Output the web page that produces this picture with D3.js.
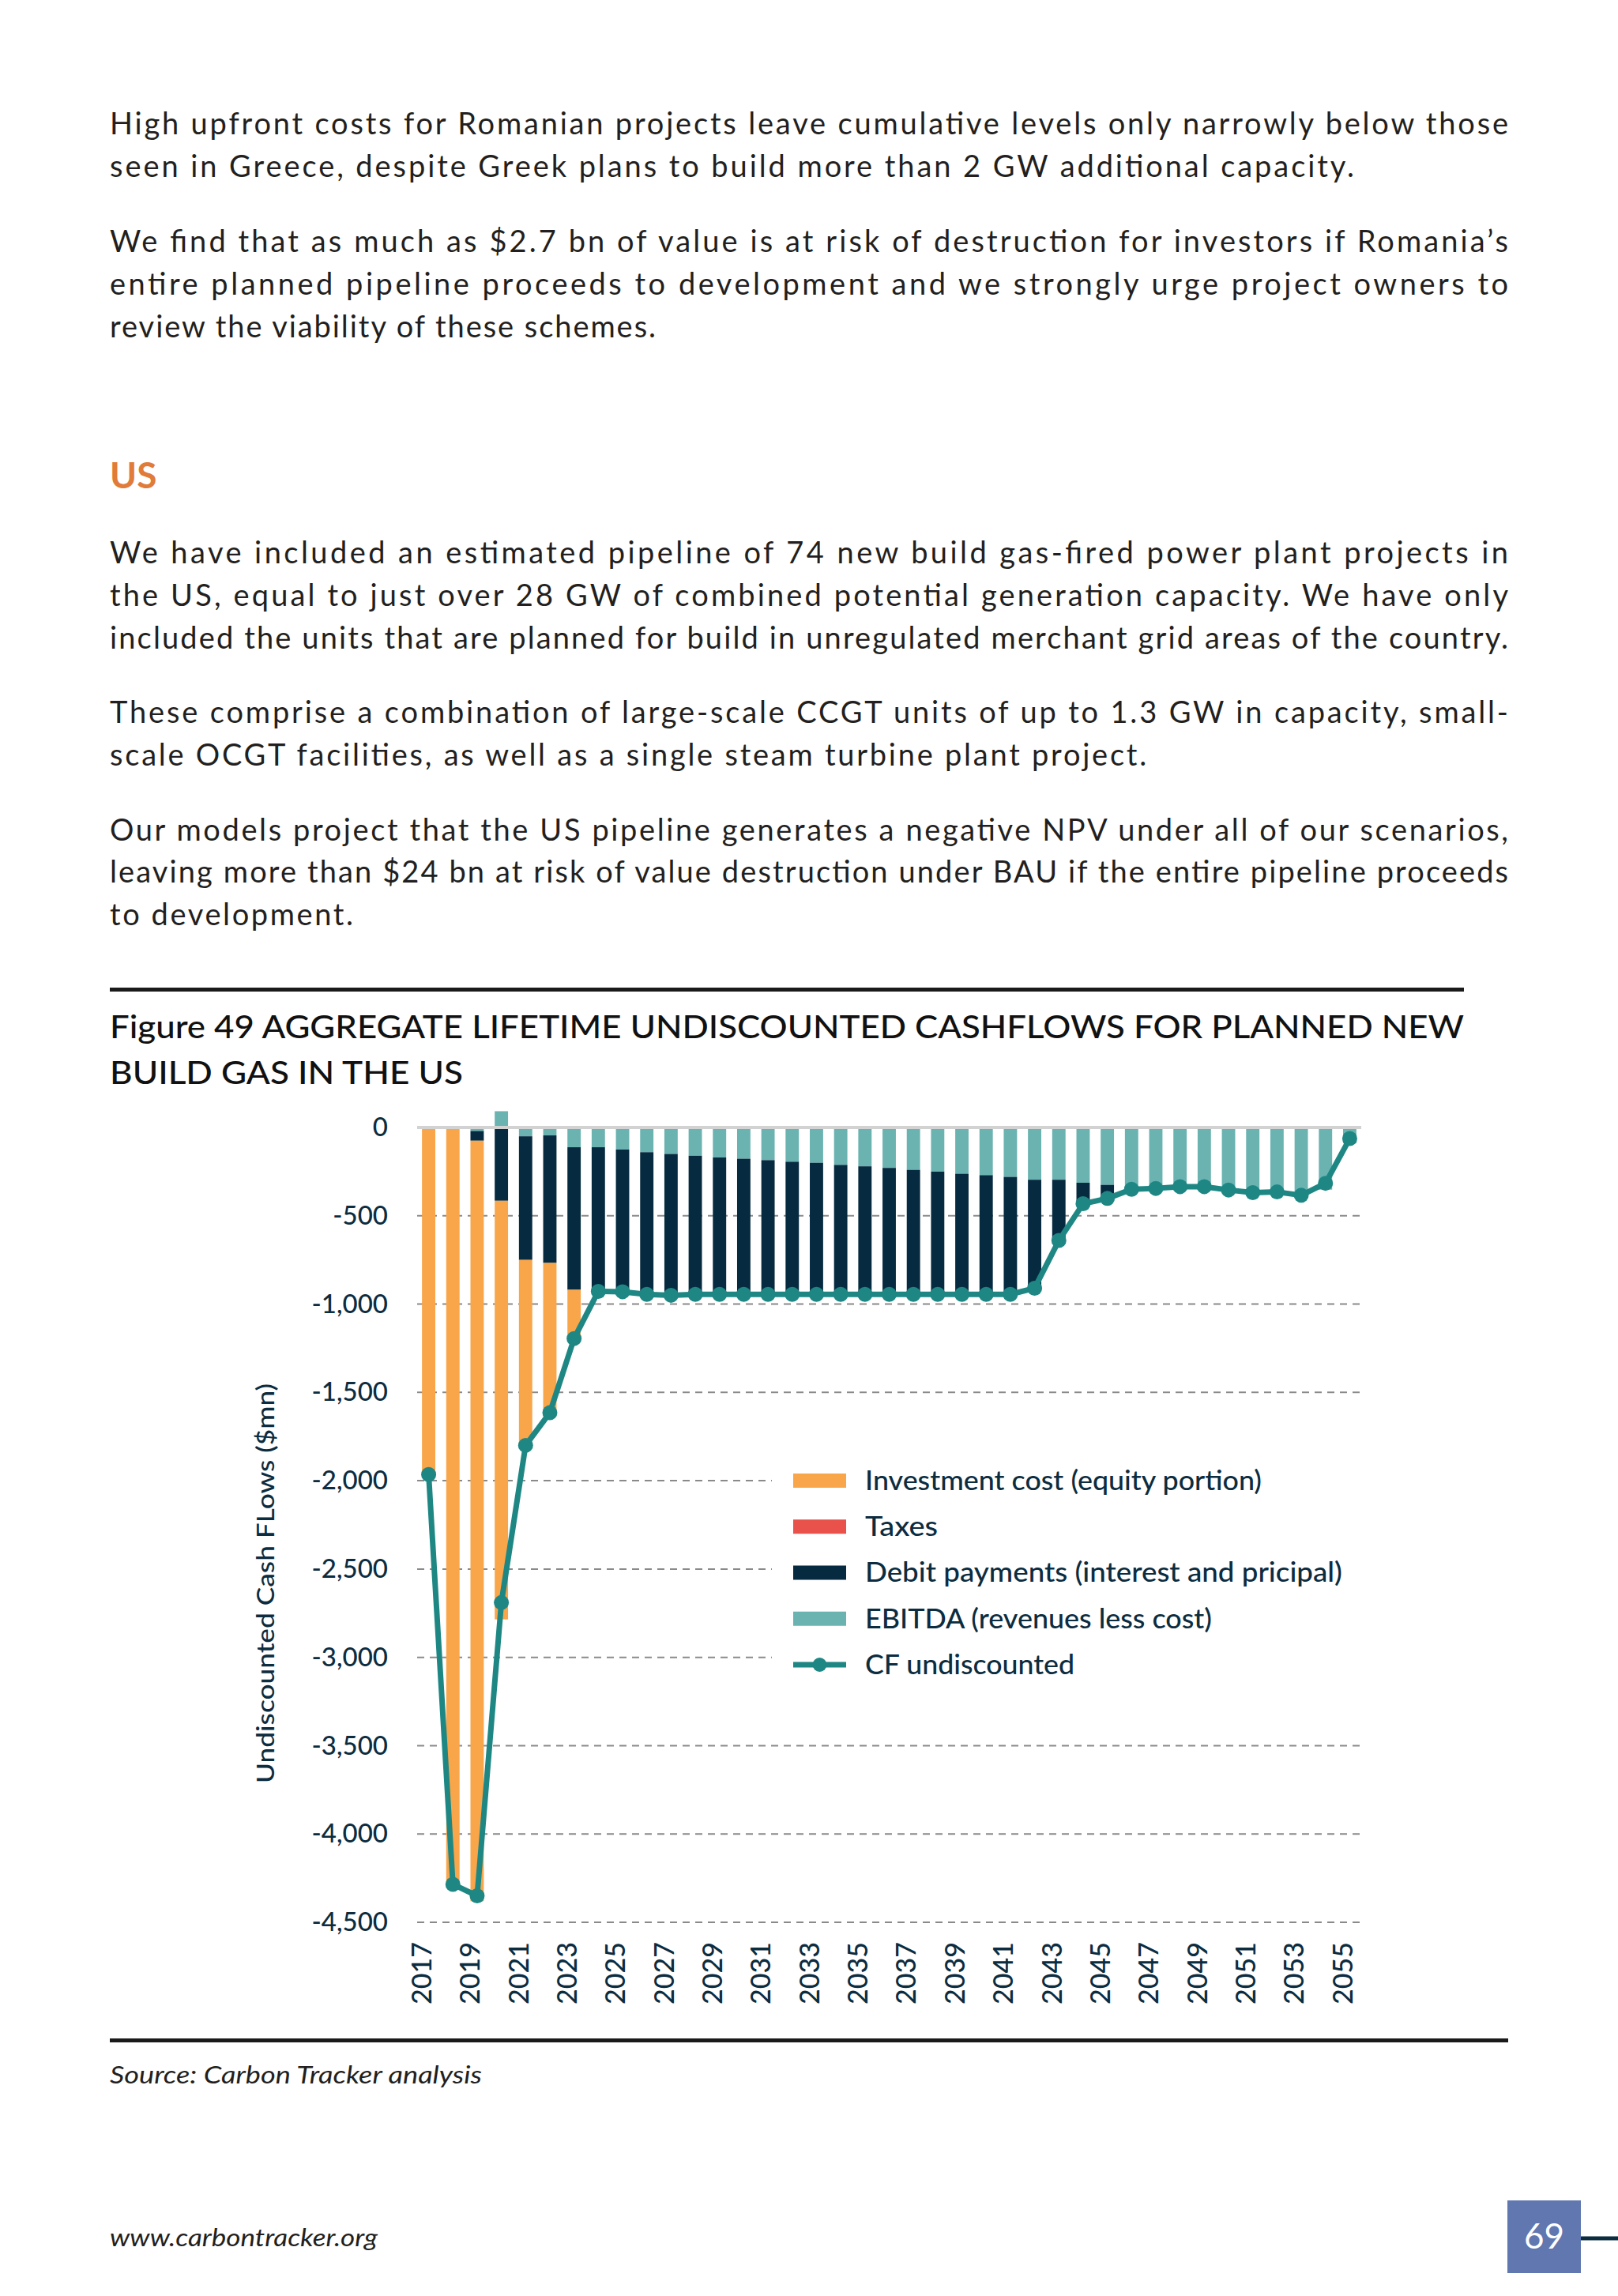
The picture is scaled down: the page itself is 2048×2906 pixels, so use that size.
<!DOCTYPE html>
<html>
<head>
<meta charset="utf-8">
<script src="https://cdn.jsdelivr.net/npm/d3@7"></script>
<style>
  body { margin: 0; background: #fff; }
  svg { display: block; }
</style>
</head>
<body>
<div class="viz"></div>
<script>
// ---- data ----
const years = [2017, 2018, 2019, 2020, 2021, 2022, 2023, 2024, 2025, 2026,
  2027, 2028, 2029, 2030, 2031, 2032, 2033, 2034, 2035, 2036,
  2037, 2038, 2039, 2040, 2041, 2042, 2043, 2044, 2045, 2046,
  2047, 2048, 2049, 2050, 2051, 2052, 2053, 2054, 2055];

const investment = [-1970, -4300, -4305, -2370, -1060, -855, -280, 0, 0, 0,
  0, 0, 0, 0, 0, 0, 0, 0, 0, 0,
  0, 0, 0, 0, 0, 0, 0, 0, 0, 0,
  0, 0, 0, 0, 0, 0, 0, 0, 0];

const taxes = [0, 0, 0, 0, 0, 0, 0, 0, 0, 0,
  0, 0, 0, 0, 0, 0, 0, 0, 0, 0,
  0, 0, 0, 0, 0, 0, 0, 0, 0, 0,
  0, 0, 0, 0, 0, 0, 0, 0, 0];

const debt = [0, 0, -55, -415, -700, -722, -807, -818, -810, -805,
  -805, -785, -775, -768, -760, -751, -745, -733, -725, -716,
  -705, -695, -683, -675, -665, -614, -344, -120, -80, -15,
  -10, 0, 0, 0, 0, 0, 0, 0, 0];

const ebitda = [0, 0, -20, 92, -50, -45, -112, -112, -125, -140,
  -150, -160, -170, -177, -185, -194, -200, -212, -220, -229,
  -240, -250, -262, -270, -280, -296, -296, -313, -325, -335,
  -335, -338, -345, -354, -366, -366, -384, -352, -90];

const cf = [-1965, -4285, -4350, -2690, -1800, -1615, -1195, -928, -930, -945,
  -950, -945, -945, -945, -945, -945, -945, -945, -945, -945,
  -945, -945, -945, -945, -945, -910, -640, -432, -402, -350,
  -345, -335, -335, -354, -369, -365, -384, -316, -63];

const yTicks = [0, -500, -1000, -1500, -2000, -2500, -3000, -3500, -4000, -4500];
const xTickYears = [2017, 2019, 2021, 2023, 2025, 2027, 2029, 2031, 2033, 2035,
  2037, 2039, 2041, 2043, 2045, 2047, 2049, 2051, 2053, 2055];

const seriesKeys = ['ebitda', 'taxes', 'debt', 'investment'];
const legendItems = [
  {key: 'investment', label: 'Investment cost (equity portion)', len: 502},
  {key: 'taxes', label: 'Taxes', len: 92},
  {key: 'debt', label: 'Debit payments (interest and pricipal)', len: 604},
  {key: 'ebitda', label: 'EBITDA (revenues less cost)', len: 439},
  {key: 'cf', label: 'CF undiscounted', len: 265}
];

const colors = {
  investment: '#f9a54a',
  taxes: '#e8524a',
  debt: '#062b40',
  ebitda: '#6bb3b1',
  cf: '#1e8784'
};

const ink = '#231f20';
const navy = '#0c2c40';
const font = 'Lato, "Open Sans", sans-serif';

// ---- page ----
const width = 2048, height = 2906;

const svg = d3.select('.viz').append('svg')
  .attr('width', width)
  .attr('height', height)
  .style('font-family', font);

svg.append('rect').attr('width', width).attr('height', height).attr('fill', '#fff');

// body text: [text, baseline, right edge or null = natural width]
const bodyLines = [
  ['High upfront costs for Romanian projects leave cumulative levels only narrowly below those', 170, 1909],
  ['seen in Greece, despite Greek plans to build more than 2 GW additional capacity.', 224, 1714],
  ['We find that as much as $2.7 bn of value is at risk of destruction for investors if Romania\u2019s', 319, 1909],
  ['entire planned pipeline proceeds to development and we strongly urge project owners to', 373, 1909],
  ['review the viability of these schemes.', 427, 830],
  ['We have included an estimated pipeline of 74 new build gas-fired power plant projects in', 713, 1909],
  ['the US, equal to just over 28 GW of combined potential generation capacity. We have only', 767, 1909],
  ['included the units that are planned for build in unregulated merchant grid areas of the country.', 821, 1909],
  ['These comprise a combination of large-scale CCGT units of up to 1.3 GW in capacity, small-', 915, 1909],
  ['scale OCGT facilities, as well as a single steam turbine plant project.', 969, null],
  ['Our models project that the US pipeline generates a negative NPV under all of our scenarios,', 1064, 1909],
  ['leaving more than $24 bn at risk of value destruction under BAU if the entire pipeline proceeds', 1117, 1909],
  ['to development.', 1171, 447]
];

const left = 139;

const body = svg.append('g').selectAll('text')
  .data(bodyLines)
  .join('text')
    .attr('x', left)
    .attr('y', d => d[1])
    .attr('font-size', 38)
    .attr('fill', ink)
    .text(d => d[0]);

// natural widths, scaled like the free-running reference line
const natural = body.nodes().map(n => n.getComputedTextLength());
const k = (bodyLines[1][2] - left) / natural[1];
body.attr('textLength', (d, i) => d[2] ? d[2] - left : natural[i] * k)
  .attr('lengthAdjust', 'spacing');

svg.append('text')
  .attr('x', left).attr('y', 618)
  .attr('font-size', 46).attr('font-weight', 700)
  .attr('fill', '#e07b39')
  .text('US');

// figure frame + title
svg.append('rect').attr('x', left).attr('y', 1250).attr('width', 1853 - left).attr('height', 5).attr('fill', '#1a1a1a');
svg.append('rect').attr('x', left).attr('y', 2580).attr('width', 1909 - left).attr('height', 5).attr('fill', '#1a1a1a');

const titleLines = [
  ['Figure 49 AGGREGATE LIFETIME UNDISCOUNTED CASHFLOWS FOR PLANNED NEW', 1314, 1853],
  ['BUILD GAS IN THE US', 1372, 586]
];
svg.append('g').selectAll('text')
  .data(titleLines)
  .join('text')
    .attr('x', left)
    .attr('y', d => d[1])
    .attr('textLength', d => d[2] - left)
    .attr('lengthAdjust', 'spacingAndGlyphs')
    .attr('font-size', 41)
    .attr('font-weight', 500)
    .attr('fill', '#111')
    .text(d => d[0]);

svg.append('text')
  .attr('x', left).attr('y', 2637)
  .attr('font-size', 31).attr('font-style', 'italic')
  .attr('textLength', 471).attr('lengthAdjust', 'spacingAndGlyphs')
  .attr('fill', ink)
  .text('Source: Carbon Tracker analysis');

svg.append('text')
  .attr('x', left).attr('y', 2843)
  .attr('font-size', 31).attr('font-style', 'italic')
  .attr('textLength', 339).attr('lengthAdjust', 'spacingAndGlyphs')
  .attr('fill', ink)
  .text('www.carbontracker.org');

// page number
svg.append('rect').attr('x', 1908).attr('y', 2785).attr('width', 93).attr('height', 92).attr('fill', '#6077b0');
svg.append('text')
  .attr('x', 1954.5).attr('y', 2831).attr('dy', '0.35em')
  .attr('text-anchor', 'middle')
  .attr('font-size', 44).attr('fill', '#fff')
  .text('69');
svg.append('line')
  .attr('x1', 2001).attr('x2', 2048).attr('y1', 2833).attr('y2', 2833)
  .attr('stroke', navy).attr('stroke-width', 5);

// ---- chart ----
const plot = {left: 528, right: 1723};

const x = d3.scaleBand()
  .domain(years)
  .range([plot.left, plot.right])
  .paddingInner(0.45)
  .paddingOuter(0.2);

const y = d3.scaleLinear()
  .domain([-4500, 0])
  .range([2433, 1427]);

const fmt = d3.formatLocale({decimal: '.', thousands: ',', grouping: [3], currency: ['$', ''], minus: '-'}).format(',');

const rows = years.map((yr, i) => ({
  year: yr,
  investment: investment[i],
  taxes: taxes[i],
  debt: debt[i],
  ebitda: ebitda[i],
  cf: cf[i]
}));

const g = svg.append('g');

// gridlines
g.append('g').selectAll('line')
  .data(yTicks.filter(d => d !== 0))
  .join('line')
    .attr('x1', plot.left).attr('x2', plot.right)
    .attr('y1', d => y(d)).attr('y2', d => y(d))
    .attr('stroke', '#8a8a8a')
    .attr('stroke-width', 2)
    .attr('stroke-dasharray', '9,7');

// y axis labels
const yAxis = g.append('g')
  .attr('transform', `translate(${plot.left},0)`)
  .call(d3.axisLeft(y).tickValues(yTicks).tickFormat(fmt).tickSize(0).tickPadding(37));
yAxis.select('.domain').remove();
yAxis.selectAll('text')
  .attr('font-family', font)
  .attr('font-size', 33)
  .attr('font-weight', 500)
  .attr('fill', navy);

// x axis labels
const xAxis = g.append('g')
  .attr('transform', `translate(0,2458)`)
  .call(d3.axisBottom(x).tickValues(xTickYears).tickSize(0).tickPadding(0));
xAxis.select('.domain').remove();
xAxis.selectAll('text')
  .attr('font-family', font)
  .attr('font-size', 34)
  .attr('font-weight', 500)
  .attr('fill', navy)
  .attr('text-anchor', 'end')
  .attr('transform', 'translate(-9,0) rotate(-90)')
  .attr('x', 0)
  .attr('y', 0)
  .attr('dy', '0.36em');

// stacked bars
const stack = d3.stack()
  .keys(seriesKeys)
  .offset(d3.stackOffsetDiverging);

g.append('g').selectAll('g')
  .data(stack(rows))
  .join('g')
    .attr('fill', d => colors[d.key])
  .selectAll('rect')
  .data(d => d)
  .join('rect')
    .attr('x', d => x(d.data.year))
    .attr('width', x.bandwidth())
    .attr('y', d => y(Math.max(d[0], d[1])))
    .attr('height', d => Math.abs(y(d[0]) - y(d[1])));

// zero line
g.append('line')
  .attr('x1', plot.left).attr('x2', plot.right)
  .attr('y1', y(0)).attr('y2', y(0))
  .attr('stroke', '#d2d2d2')
  .attr('stroke-width', 4);

// legend
const lg = g.append('g');
lg.append('rect')
  .attr('x', 977).attr('y', 1843)
  .attr('width', plot.right + 2 - 977).attr('height', 292)
  .attr('fill', '#fff');

const legendY = d3.scalePoint()
  .domain(legendItems.map(d => d.key))
  .range([1874, 2107]);

const li = lg.selectAll('g.item')
  .data(legendItems)
  .join('g')
    .attr('class', 'item')
    .attr('transform', d => `translate(1004,${legendY(d.key)})`);

li.filter(d => d.key !== 'cf').append('rect')
  .attr('x', 0).attr('y', -9)
  .attr('width', 67).attr('height', 18)
  .attr('fill', d => colors[d.key]);

const cfItem = li.filter(d => d.key === 'cf');
cfItem.append('line')
  .attr('x1', 0).attr('x2', 67)
  .attr('stroke', colors.cf).attr('stroke-width', 7);
cfItem.append('circle')
  .attr('cx', 33.5).attr('r', 9)
  .attr('fill', colors.cf);

li.append('text')
  .attr('x', 91)
  .attr('dy', '0.35em')
  .attr('font-size', 34)
  .attr('font-weight', 500)
  .attr('fill', navy)
  .attr('textLength', d => d.len)
  .attr('lengthAdjust', 'spacingAndGlyphs')
  .text(d => d.label);

// cash flow line
const line = d3.line()
  .x(d => x(d.year) + x.bandwidth() / 2)
  .y(d => y(d.cf));

g.append('path')
  .datum(rows)
  .attr('fill', 'none')
  .attr('stroke', colors.cf)
  .attr('stroke-width', 7)
  .attr('stroke-linejoin', 'round')
  .attr('d', line);

g.append('g').selectAll('circle')
  .data(rows)
  .join('circle')
    .attr('cx', d => x(d.year) + x.bandwidth() / 2)
    .attr('cy', d => y(d.cf))
    .attr('r', 9.5)
    .attr('fill', colors.cf);

// y axis title
svg.append('text')
  .attr('transform', 'translate(347,2004) rotate(-90)')
  .attr('text-anchor', 'middle')
  .attr('font-size', 31)
  .attr('font-weight', 500)
  .attr('fill', navy)
  .attr('textLength', 506)
  .attr('lengthAdjust', 'spacingAndGlyphs')
  .text('Undiscounted Cash FLows ($mn)');
</script>
</body>
</html>
